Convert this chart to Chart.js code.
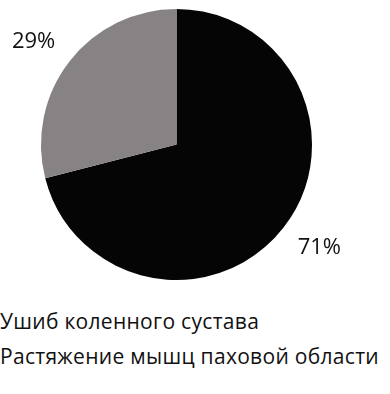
<!DOCTYPE html>
<html>
<head>
<meta charset="utf-8">
<script src="https://cdn.jsdelivr.net/npm/chart.js@4/dist/chart.umd.min.js"></script>
<style>
  html, body { margin: 0; padding: 0; background: #fff; }
  body { position: relative; width: 390px; height: 394px; overflow: hidden; }
  #wrap { position: absolute; left: 0; top: 0; width: 390px; height: 300px; }
  .legend-row {
    position: absolute; left: 0;
    font-family: "Open Sans", "Liberation Sans", sans-serif;
    font-size: 21px; line-height: normal; letter-spacing: 0.3px;
    color: #111; white-space: nowrap;
  }
</style>
</head>
<body>
<div id="wrap"><canvas id="c"></canvas></div>
<script>
const categories = ["Ушиб коленного сустава", "Растяжение мышц паховой области"];
const shares = [71, 29];
const sliceColors = ["#050505", "#878384"];

// Percent labels placed just outside each slice, near its middle angle
const outsideLabels = {
  id: "outsideLabels",
  afterDatasetsDraw(chart) {
    const ctx = chart.ctx;
    const meta = chart.getDatasetMeta(0);
    ctx.save();
    ctx.font = '22px "Open Sans", "Liberation Sans", sans-serif';
    ctx.fillStyle = "#111";
    ctx.textAlign = "center";
    ctx.textBaseline = "middle";
    meta.data.forEach((arc, i) => {
      const p = arc.getProps(["x", "y", "startAngle", "endAngle", "outerRadius"], true);
      const mid = (p.startAngle + p.endAngle) / 2 - 0.035;
      const d = p.outerRadius * 1.3;
      ctx.fillText(shares[i] + "%", p.x + Math.cos(mid) * d, p.y + Math.sin(mid) * d);
    });
    ctx.restore();
  }
};

new Chart(document.getElementById("c"), {
  type: "pie",
  data: {
    labels: categories,
    datasets: [{
      data: shares,
      backgroundColor: sliceColors,
      borderWidth: 0
    }]
  },
  options: {
    responsive: true,
    maintainAspectRatio: false,
    animation: false,
    layout: { padding: { top: 9, bottom: 20, left: 0, right: 37 } },
    plugins: {
      legend: { display: false },
      tooltip: { enabled: false }
    }
  },
  plugins: [outsideLabels]
});

// Text-only legend rows under the pie
categories.forEach((name, i) => {
  const row = document.createElement("div");
  row.className = "legend-row";
  row.style.top = (307 + i * 35) + "px";
  row.textContent = name;
  document.body.appendChild(row);
});
</script>
</body>
</html>
